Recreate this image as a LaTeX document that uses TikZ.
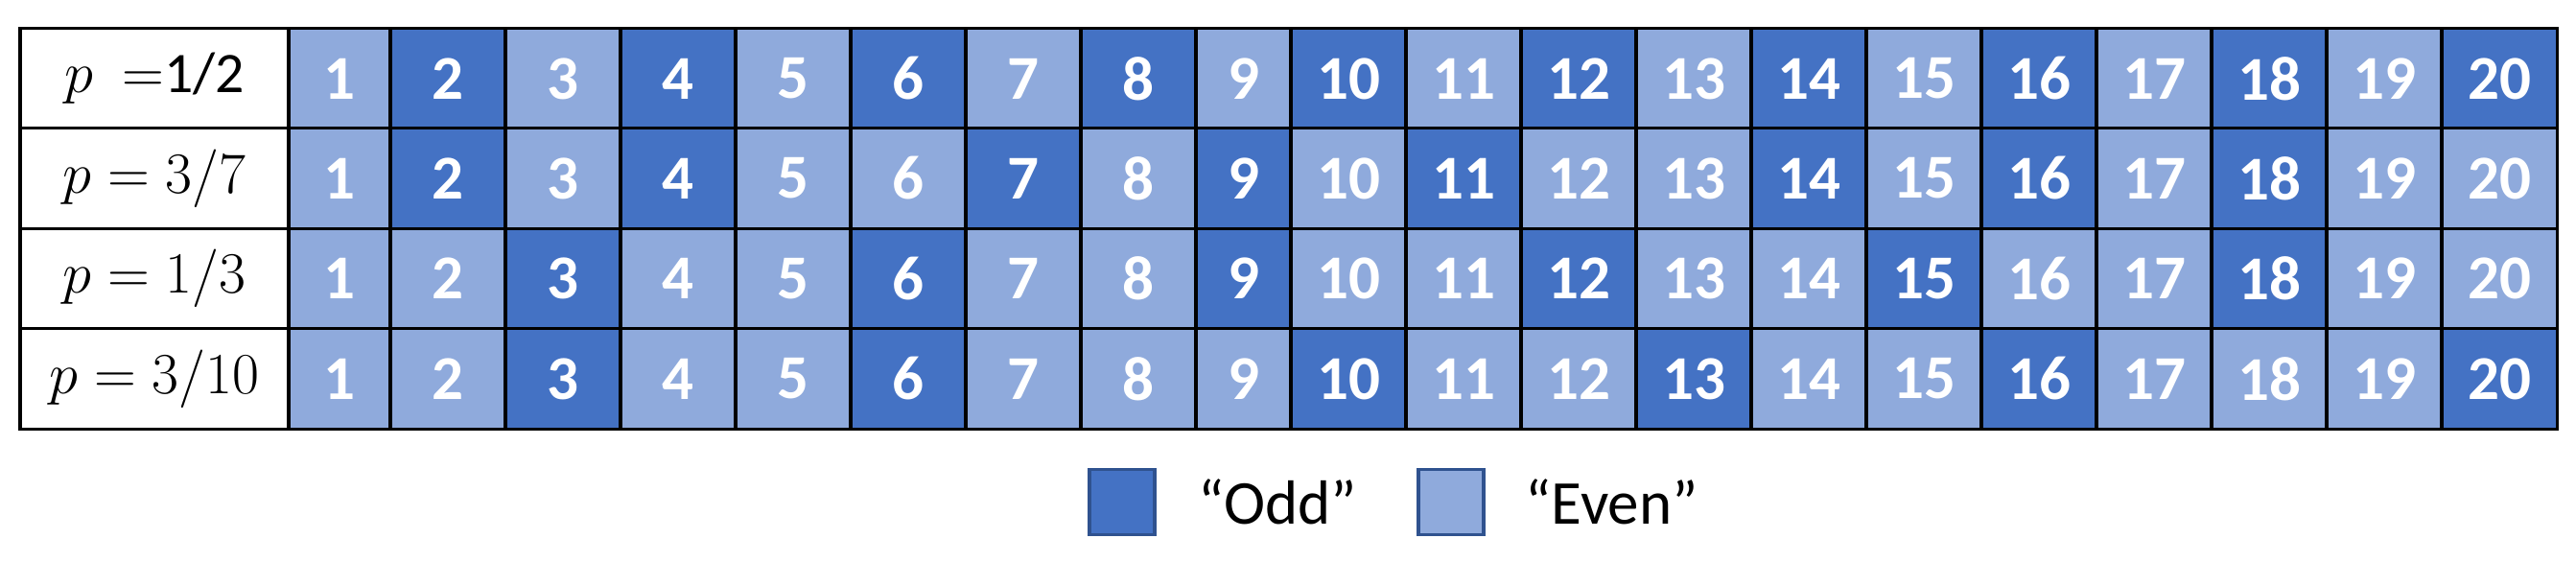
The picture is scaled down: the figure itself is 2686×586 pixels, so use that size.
\documentclass[tikz,border=0pt]{standalone}
\usepackage{fontspec}
\setmainfont{Carlito}
\usetikzlibrary{positioning}

\definecolor{odd blue}{HTML}{4472C4}
\definecolor{even blue}{HTML}{8FAADC}
\definecolor{key edge}{HTML}{2F528F}

\begin{document}
\begin{tikzpicture}[x=0.01cm,y=-0.01cm,line width=0.9pt,
  label node/.style={draw,fill=white,minimum width=2.8cm,minimum height=1.0425cm,inner sep=0pt,font=\fontsize{17}{20}\selectfont},
  cell/.style={draw,minimum height=1.0425cm,inner sep=0pt,text=white,font=\fontsize{18.5}{20}\selectfont\bfseries},
  odd cell/.style={cell,fill=odd blue},
  even cell/.style={cell,fill=even blue},
  key box/.style={draw=key edge,line width=1.1pt,minimum size=0.68cm,inner sep=0pt},
  key text/.style={inner sep=0pt,font=\fontsize{18.5}{22}\selectfont}]

  \useasboundingbox (0,0) rectangle (2686,586);

  % row labels
  \node[label node] (lab1) at (161,82) {$p\ =$1/2};
  \node[label node] (lab2) at (161,186) {$p = 3/7$};
  \node[label node] (lab3) at (161,290.5) {$p = 1/3$};
  \node[label node] (lab4) at (161,395) {$p = 3/10$};

  % cells: "odd" if the number is in the row's list
  \foreach \row/\y/\darks in {1/82/{2,4,6,8,10,12,14,16,18,20},
                              2/186/{2,4,7,9,11,14,16,18},
                              3/290.5/{3,6,9,12,15,18},
                              4/395/{3,6,10,13,16,20}} {
    \foreach \n/\x/\w in {1/354/1.06, 2/467/1.2, 3/587/1.2, 4/707/1.2, 5/827/1.2,
                          6/947/1.2, 7/1067/1.2, 8/1187/1.2, 9/1296.5/0.99,
                          10/1406/1.2, 11/1526/1.2, 12/1646/1.2, 13/1766/1.2,
                          14/1886/1.2, 15/2006/1.2, 16/2126/1.2, 17/2246/1.2,
                          18/2366/1.2, 19/2486/1.2, 20/2606/1.2} {
      \gdef\cellsty{even cell}
      \foreach \d in \darks {\ifnum\d=\n\relax\gdef\cellsty{odd cell}\fi}
      \node[\cellsty,minimum width=\w cm] (r\row c\n) at (\x,\y) {\n};
    }
  }

  % legend
  \node[key box,fill=odd blue] (oddbox) at (1170,523.5) {};
  \node[key text,right=0.42cm of oddbox] (oddtext) {``Odd''};
  \node[key box,fill=even blue] (evenbox) at (1513,523.5) {};
  \node[key text,right=0.4cm of evenbox] (eventext) {``Even''};

\end{tikzpicture}
\end{document}
